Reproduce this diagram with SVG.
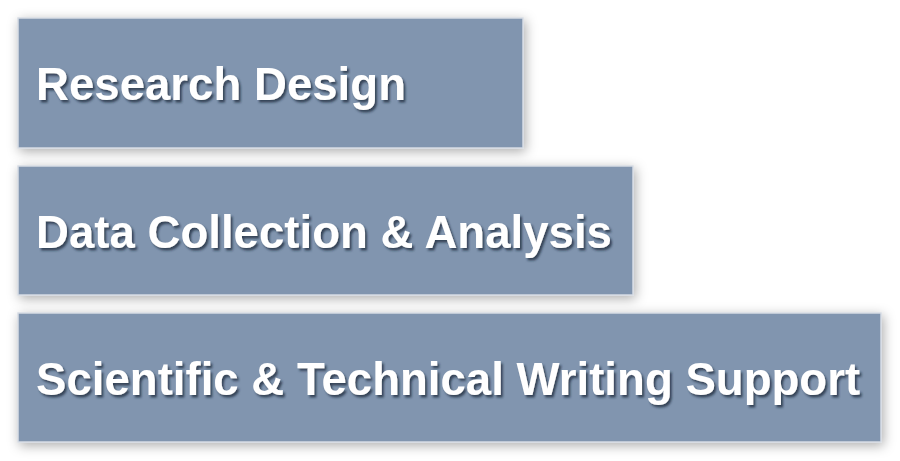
<svg xmlns="http://www.w3.org/2000/svg" width="900" height="461" viewBox="0 0 900 461">
<defs>
<filter id="boxShadow" x="-10%" y="-20%" width="120%" height="140%">
<feDropShadow dx="2" dy="3" stdDeviation="6" flood-color="#000" flood-opacity="0.32"/>
</filter>
<filter id="txtShadow" x="-5%" y="-20%" width="110%" height="150%">
<feDropShadow dx="2" dy="2.5" stdDeviation="1.3" flood-color="#1e2a3a" flood-opacity="0.75"/>
</filter>
</defs>
<style>
.box{fill:#8195af;stroke:#d6dbe3;stroke-width:1.5;filter:url(#boxShadow)}
.lbl{font-family:"Liberation Sans",Arial,sans-serif;font-weight:bold;font-size:45.6px;fill:#ffffff;filter:url(#txtShadow)}
</style>
<rect width="900" height="461" fill="#ffffff"/>
<g id="research-design">
<rect class="box" x="18" y="18" width="505" height="130"/>
<text class="lbl" x="36" y="100">Research Design</text>
</g>
<g id="data-collection">
<rect class="box" x="18" y="166" width="615" height="129"/>
<text class="lbl" x="36" y="248">Data Collection &amp; Analysis</text>
</g>
<g id="writing-support">
<rect class="box" x="18" y="313" width="863" height="129"/>
<text class="lbl" x="36" y="395">Scientific &amp; Technical Writing Support</text>
</g>
<g id="connectors"/>
</svg>
